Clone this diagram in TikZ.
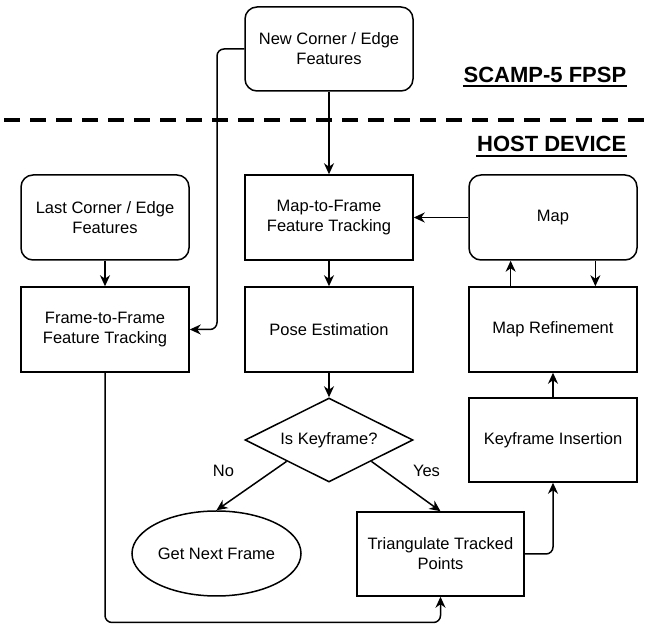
\documentclass[tikz,border=0pt]{standalone}
\usepackage{fontspec}
\setmainfont{Liberation Sans}
\usetikzlibrary{shapes.geometric,arrows.meta,calc}
\begin{document}
\begin{tikzpicture}[x=1pt,y=1pt,
  every node/.style={font=\fontsize{16.5}{20}\selectfont, align=center, line width=1.5pt},
  procbox/.style={draw, rectangle, minimum width=168pt, minimum height=85pt, inner sep=2pt},
  roundbox/.style={procbox, rounded corners=12pt},
  decision/.style={draw, diamond, aspect=2, minimum width=168pt, minimum height=84pt, inner sep=1pt},
  terminal/.style={draw, ellipse, minimum width=169pt, minimum height=85pt, inner sep=0pt},
  arr/.style={line width=1.5pt, -{Stealth[length=11pt,width=10pt,inset=3.5pt]}, rounded corners=7pt},
  lbl/.style={font=\fontsize{16.5}{20}\selectfont},
  title/.style={font=\fontsize{22}{26}\selectfont\bfseries, inner sep=0pt, anchor=base east},
  uline/.style={line width=1.8pt}
]
\useasboundingbox (0,0) rectangle (649,624);

% separator
\draw[line width=4pt, dash pattern=on 16pt off 10pt] (4,504) -- (649,504);

% titles
\node[title] (scamp) at (627,541) {SCAMP-5 FPSP};
\draw[uline] ($(scamp.base west)+(0,-3)$) -- ($(scamp.base east)+(0,-3)$);
\node[title] (host) at (627,472) {HOST DEVICE};
\draw[uline] ($(host.base west)+(0,-4)$) -- ($(host.base east)+(0,-4)$);

% nodes
\node[roundbox, minimum height=84pt] (newf) at (329,575) {New Corner / Edge\\Features};
\node[roundbox] (last) at (105,406.5) {Last Corner / Edge\\Features};
\node[procbox] (m2f) at (329,406.5) {Map-to-Frame\\Feature Tracking};
\node[roundbox] (map) at (553,406.5) {Map};
\node[procbox] (f2f) at (105,294.5) {Frame-to-Frame\\Feature Tracking};
\node[procbox] (pose) at (329,294.5) {Pose Estimation};
\node[procbox] (mref) at (553,294.5) {Map Refinement};
\node[decision] (kf) at (329,184) {Is Keyframe?};
\node[procbox, minimum height=84pt] (kins) at (553,184) {Keyframe Insertion};
\node[terminal] (gnf) at (216.5,70.5) {Get Next Frame};
\node[procbox, minimum width=167pt, minimum height=84pt] (tri) at (440.5,70) {Triangulate Tracked\\Points};

% labels
\node[lbl] (no) at (223.5,153) {No};
\node[lbl] (yes) at (426.5,153) {Yes};

% helper coordinates
\coordinate (bendA) at (217,575);
\coordinate (loopB) at (105,1.5);

% connectors
\draw[arr] (newf) -- (m2f);
\draw[arr] (newf.west) -- (bendA) |- (f2f.east);
\draw[arr] (last) -- (f2f);
\draw[arr] (map.west) -- (m2f.east);
\draw[arr] (m2f) -- (pose);
\draw[arr] (pose) -- (kf);
\draw[arr] ($(kf.west)!0.5!(kf.south)$) -- (gnf.north);
\draw[arr] ($(kf.east)!0.5!(kf.south)$) -- (tri.north);
\draw[arr] (tri.east) -| (kins.south);
\draw[arr] (kins) -- (mref);
\draw[arr] ($(mref.north west)!0.25!(mref.north east)$) -- ($(map.south west)!0.25!(map.south east)$);
\draw[arr] ($(map.south west)!0.75!(map.south east)$) -- ($(mref.north west)!0.75!(mref.north east)$);
\draw[arr] (f2f.south) -- (loopB) -| (tri.south);
\end{tikzpicture}
\end{document}
